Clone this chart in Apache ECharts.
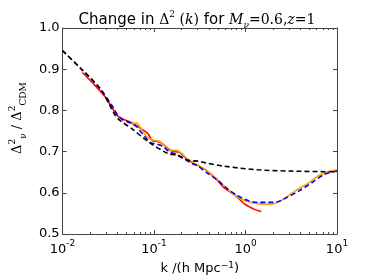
<!DOCTYPE html>
<html>
<head>
<meta charset="utf-8">
<script src="https://cdn.jsdelivr.net/npm/echarts@6/dist/echarts.min.js"></script>
<style>html,body{margin:0;padding:0;background:#fff}#c{width:374px;height:280px}</style>
</head>
<body>
<div id="c"></div>
<script>
// log10(k) and ratio values
const logkBlack = [-2.0, -1.793, -1.586, -1.421, -1.369, -1.245, -1.111, -1.038, -0.852, -0.749, -0.625, -0.521, -0.418, -0.242, 0.130, 0.482, 1.0];
const vBlack    = [0.945, 0.900, 0.852, 0.787, 0.775, 0.756, 0.732, 0.720, 0.696, 0.691, 0.679, 0.677, 0.672, 0.665, 0.656, 0.653, 0.651];

const logkBlue = [-2.0, -1.793, -1.586, -1.452, -1.400, -1.349, -1.266, -1.193, -1.111, -1.038, -0.966, -0.904, -0.831, -0.759, -0.676, -0.594, -0.521, -0.418, -0.314, -0.211, -0.108, -0.004, 0.130, 0.234, 0.327, 0.409, 0.585, 0.720, 0.854, 1.0];
const vBlue    = [0.945, 0.900, 0.852, 0.809, 0.789, 0.778, 0.770, 0.761, 0.739, 0.722, 0.718, 0.713, 0.699, 0.694, 0.684, 0.672, 0.665, 0.648, 0.632, 0.612, 0.596, 0.584, 0.577, 0.577, 0.577, 0.584, 0.605, 0.624, 0.644, 0.653];

const logkRed = [-1.783, -1.659, -1.535, -1.452, -1.400, -1.349, -1.297, -1.224, -1.142, -1.069, -1.018, -0.966, -0.914, -0.852, -0.800, -0.728, -0.676, -0.625, -0.521, -0.418, -0.314, -0.232, -0.108, -0.004, 0.099, 0.172];
const vRed    = [0.892, 0.864, 0.833, 0.804, 0.787, 0.780, 0.775, 0.768, 0.756, 0.744, 0.727, 0.725, 0.720, 0.708, 0.701, 0.699, 0.689, 0.679, 0.667, 0.653, 0.632, 0.612, 0.593, 0.572, 0.560, 0.555];

const logkOrange = [-1.245, -1.193, -1.142, -1.090, -1.038, -0.987, -0.935, -0.883, -0.831, -0.759, -0.697, -0.645, -0.594, -0.521, -0.449, -0.314, -0.211, -0.108, -0.004, 0.130, 0.275, 0.409, 0.544, 0.689, 0.792, 0.927, 1.0];
const vOrange    = [0.766, 0.770, 0.756, 0.739, 0.730, 0.727, 0.725, 0.713, 0.703, 0.703, 0.696, 0.684, 0.677, 0.667, 0.658, 0.634, 0.612, 0.593, 0.581, 0.574, 0.572, 0.584, 0.605, 0.624, 0.641, 0.653, 0.656];

const yTicks = [0.5, 0.6, 0.7, 0.8, 0.9, 1.0];
const xDecades = [0.01, 0.1, 1, 10];

function pairs(lk, v) { return lk.map((l, i) => [Math.pow(10, l), v[i]]); }

const minorX = [];
for (let d = 0; d < xDecades.length - 1; d++) for (let m = 2; m <= 9; m++) minorX.push(xDecades[d] * m);

const axisColor = '#444';
const font = 'DejaVu Sans';

function xAxisBase(pos, ticks, len, showLine, showLabel) {
  return {
    type: 'log', logBase: 10, min: 0.01, max: 10, position: pos,
    axisLine: { show: showLine, onZero: false, lineStyle: { color: axisColor, width: 1 } },
    axisTick: { show: true, inside: true, length: len, customValues: ticks, lineStyle: { color: axisColor } },
    axisLabel: showLabel ? {
      show: true, customValues: ticks, margin: 5,
      formatter: v => '{b|10}{s|' + Math.round(Math.log10(v)) + '}',
      rich: {
        b: { fontFamily: font, fontSize: 13, color: '#000', verticalAlign: 'bottom', lineHeight: 17 },
        s: { fontFamily: font, fontSize: 9, color: '#000', verticalAlign: 'top', lineHeight: 17 }
      }
    } : { show: false },
    splitLine: { show: false }, minorTick: { show: false }, minorSplitLine: { show: false }
  };
}

const chart = echarts.init(document.getElementById('c'), null, { renderer: 'canvas' });
chart.setOption({
  animation: false,
  backgroundColor: '#fff',
  title: {
    text: '{n|Change in }{m|Δ}{s|2}{m| (}{i|k}{m|)}{n| for }{i|M}{sub|ν}{m|=0.6,}{i|z}{m|=1}',
    left: 192, top: 5, textAlign: 'center',
    textStyle: {
      fontWeight: 'normal',
      rich: {
        n: { fontFamily: font, fontSize: 15, fontWeight: 'normal', color: '#000', lineHeight: 20 },
        m: { fontFamily: 'DejaVu Serif', fontSize: 14, fontWeight: 'normal', color: '#000', lineHeight: 20 },
        i: { fontFamily: 'DejaVu Serif', fontStyle: 'italic', fontWeight: 'normal', fontSize: 14, color: '#000', lineHeight: 20 },
        s: { fontFamily: 'DejaVu Serif', fontSize: 9, fontWeight: 'normal', color: '#000', verticalAlign: 'top', lineHeight: 20 },
        sub: { fontFamily: 'DejaVu Serif', fontStyle: 'italic', fontWeight: 'normal', fontSize: 9, color: '#000', verticalAlign: 'bottom', lineHeight: 20 }
      }
    }
  },
  grid: { left: 47, right: 37, top: 28, bottom: 43, containLabel: false },
  xAxis: [
    Object.assign(xAxisBase('bottom', xDecades, 4, true, true), {
      name: 'k /(h Mpc{s|−1})', nameLocation: 'middle', nameGap: 20,
      nameTextStyle: { fontFamily: font, fontSize: 13, color: '#000',
        rich: { s: { fontFamily: font, fontSize: 9, color: '#000', verticalAlign: 'top', lineHeight: 15 } } }
    }),
    xAxisBase('bottom', minorX, 2, false, false),
    xAxisBase('top', xDecades, 4, true, false),
    xAxisBase('top', minorX, 2, false, false)
  ],
  yAxis: [
    {
      type: 'value', min: 0.5, max: 1.0, interval: 0.1, position: 'left',
      axisLine: { show: true, onZero: false, lineStyle: { color: axisColor, width: 1 } },
      axisTick: { show: true, inside: true, length: 4, customValues: yTicks, lineStyle: { color: axisColor } },
      axisLabel: { customValues: yTicks, formatter: v => v.toFixed(1), fontFamily: font, fontSize: 13, color: '#000', margin: 3 },
      splitLine: { show: false },
      name: '{m|Δ}{s|2}{u|ν}{m| / Δ}{s|2}{u|CDM}', nameLocation: 'middle', nameRotate: 90, nameGap: 22,
      nameTextStyle: {
        padding: [0, 0, 0, 26],
        rich: {
          m: { fontFamily: 'DejaVu Serif', fontSize: 13, color: '#000', lineHeight: 20 },
          s: { fontFamily: 'DejaVu Serif', fontSize: 9, color: '#000', verticalAlign: 'top', lineHeight: 20 },
          u: { fontFamily: 'DejaVu Serif', fontSize: 9, color: '#000', verticalAlign: 'bottom', lineHeight: 20 }
        }
      }
    },
    {
      type: 'value', min: 0.5, max: 1.0, interval: 0.1, position: 'right',
      axisLine: { show: true, onZero: false, lineStyle: { color: axisColor, width: 1 } },
      axisTick: { show: true, inside: true, length: 4, customValues: yTicks, lineStyle: { color: axisColor } },
      axisLabel: { show: false }, splitLine: { show: false }
    }
  ],
  series: [
    { type: 'line', data: pairs(logkRed, vRed), showSymbol: false, smooth: 0.3, lineStyle: { color: '#ff0000', width: 1.6 }, z: 2 },
    { type: 'line', data: pairs(logkOrange, vOrange), showSymbol: false, smooth: 0.3, lineStyle: { color: '#ffa500', width: 1.6 }, z: 3 },
    { type: 'line', data: pairs(logkBlue, vBlue), showSymbol: false, smooth: 0.3, lineStyle: { color: '#0000ff', width: 1.6, type: [5, 3] }, z: 4 },
    { type: 'line', data: pairs(logkBlack, vBlack), showSymbol: false, smooth: 0.3, lineStyle: { color: '#000', width: 1.6, type: [5, 3] }, z: 5 }
  ]
});
</script>
</body>
</html>
